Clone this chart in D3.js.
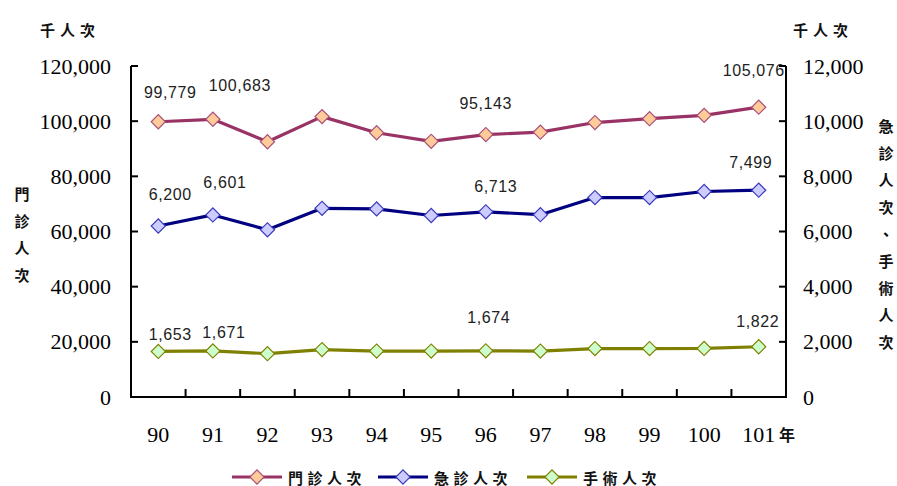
<!DOCTYPE html>
<html><head><meta charset="utf-8">
<script src="https://cdn.jsdelivr.net/npm/d3@7/dist/d3.min.js"></script>
<style>body{margin:0;background:#fff}svg{display:block}</style>
</head><body>
<svg id="c" width="897" height="486"></svg>
<script>
// ---- data ----
const years = ["90","91","92","93","94","95","96","97","98","99","100","101"];
const outpatient = [99779,100683,92550,101650,95800,92700,95143,96000,99500,100900,102100,105076];
const emergency  = [6200,6601,6060,6840,6820,6580,6713,6610,7230,7230,7450,7499];
const surgery    = [1653,1671,1570,1720,1665,1665,1674,1665,1755,1755,1760,1822];
const leftTicks  = [0,20000,40000,60000,80000,100000,120000];
const rightTicks = [0,2000,4000,6000,8000,10000,12000];
const labelIndex = [0,1,6,11];
const seriesNames = ["門診人次","急診人次","手術人次"];

// ---- layout / style ----
const L = 131, R = 786, T = 66, B = 397;
const svg = d3.select("#c");
const x = d3.scaleBand().domain(years).range([L, R]);
const cx = d => x(d) + x.bandwidth()/2;
const yL = d3.scaleLinear().domain([0,120000]).range([B, T]);
const yR = d3.scaleLinear().domain([0,12000]).range([B, T]);
const fmt = d3.format(",");

const series = [
  {vals: outpatient, y: yL, line:"#993366", fill:"#FFCC99", stroke:"#A8507A",
   off: [[12,-29],[27,-34],[0,-31],[-5,-37]]},
  {vals: emergency, y: yR, line:"#000080", fill:"#CCCCFF", stroke:"#3A3AC0",
   off: [[12,-31],[12,-32],[10,-25],[-8,-28]]},
  {vals: surgery, y: yR, line:"#808000", fill:"#CCFFCC", stroke:"#808000",
   off: [[12,-17],[11,-18],[3,-33],[-1,-25]]}
];

const serif = "'Liberation Serif','Times New Roman',serif";
const sans = "'Liberation Sans',Arial,sans-serif";
const cjk = "'Noto Sans CJK TC','Noto Sans CJK SC',sans-serif";
const diamond = d3.symbol().type(d3.symbolSquare).size(100);

// lines & markers
series.forEach(s => {
  const line = d3.line().x((d,i)=>cx(years[i])).y(d=>s.y(d));
  svg.append("path").attr("d", line(s.vals)).attr("fill","none")
    .attr("stroke", s.line).attr("stroke-width",3.2).attr("stroke-linejoin","round");
  svg.append("g").selectAll("path").data(s.vals).join("path")
    .attr("d", diamond)
    .attr("transform",(d,i)=>`translate(${cx(years[i])},${s.y(d)}) rotate(45)`)
    .attr("fill", s.fill).attr("stroke", s.stroke).attr("stroke-width",1.2);
  svg.append("g").selectAll("text").data(labelIndex).join("text")
    .attr("x",(k,j)=>cx(years[k]) + s.off[j][0])
    .attr("y",(k,j)=>s.y(s.vals[k]) + s.off[j][1])
    .attr("text-anchor","middle").attr("dominant-baseline","central")
    .attr("font-family", sans).attr("font-size",16).attr("letter-spacing","0.6px")
    .attr("fill","#222").text(k=>fmt(s.vals[k]));
});

// axes
const axisG = svg.append("g").attr("stroke","#000").attr("stroke-width",2);
axisG.append("line").attr("x1",L).attr("x2",L).attr("y1",T).attr("y2",B+1);
axisG.append("line").attr("x1",R).attr("x2",R).attr("y1",T).attr("y2",B+1);
axisG.append("line").attr("x1",L-1).attr("x2",R+1).attr("y1",B).attr("y2",B);
leftTicks.forEach(v => axisG.append("line").attr("x1",L).attr("x2",L+7).attr("y1",yL(v)).attr("y2",yL(v)));
rightTicks.forEach(v => axisG.append("line").attr("x1",R-7).attr("x2",R).attr("y1",yR(v)).attr("y2",yR(v)));
years.slice(1).forEach(yv => axisG.append("line").attr("x1",x(yv)).attr("x2",x(yv)).attr("y1",B).attr("y2",B-8));

// tick labels
svg.append("g").selectAll("text").data(leftTicks).join("text")
  .attr("x",111).attr("y",v=>yL(v)).attr("text-anchor","end").attr("dominant-baseline","central")
  .attr("font-family",serif).attr("font-size",22).attr("fill","#000").text(v=>fmt(v));
svg.append("g").selectAll("text").data(rightTicks).join("text")
  .attr("x",803).attr("y",v=>yR(v)).attr("text-anchor","start").attr("dominant-baseline","central")
  .attr("font-family",serif).attr("font-size",22).attr("fill","#000").text(v=>fmt(v));
svg.append("g").selectAll("text").data(years).join("text")
  .attr("x",d=>cx(d)).attr("y",434).attr("text-anchor","middle").attr("dominant-baseline","central")
  .attr("font-family",serif).attr("font-size",22).attr("fill","#000").text(d=>d);
svg.append("text").attr("x",779).attr("y",434).attr("dominant-baseline","central")
  .attr("font-family",cjk).attr("font-size",16).attr("font-weight","bold").attr("fill","#111").text("年");

// unit labels
[[40,"千人次"],[793,"千人次"]].forEach(([xx,t]) => svg.append("text").attr("x",xx).attr("y",29)
  .attr("dominant-baseline","central").attr("font-family",cjk).attr("font-size",15).attr("font-weight","bold")
  .attr("letter-spacing","5px").attr("fill","#111").text(t));

// vertical titles
function vtitle(xx, y0, str) {
  svg.append("g").selectAll("text").data(Array.from(str)).join("text")
    .attr("x",xx).attr("y",(d,i)=>y0 + i*27).attr("text-anchor","middle").attr("dominant-baseline","central")
    .attr("font-family",cjk).attr("font-size",15).attr("font-weight","bold").attr("fill","#111").text(d=>d);
}
vtitle(22, 193, "門診人次");
vtitle(886, 125, "急診人次、手術人次");

// legend
const lx = [232, 378, 527];
series.forEach((s,i) => {
  const g = svg.append("g").attr("transform",`translate(${lx[i]},477)`);
  g.append("line").attr("x1",0).attr("x2",50).attr("stroke",s.line).attr("stroke-width",3.2);
  g.append("path").attr("d",diamond).attr("transform","translate(25,0) rotate(45)")
    .attr("fill",s.fill).attr("stroke",s.stroke).attr("stroke-width",1.2);
  g.append("text").attr("x",56).attr("y",0).attr("dominant-baseline","central")
    .attr("font-family",cjk).attr("font-size",15).attr("font-weight","bold").attr("letter-spacing","4.5px")
    .attr("fill","#111").text(seriesNames[i]);
});
</script>
</body></html>
